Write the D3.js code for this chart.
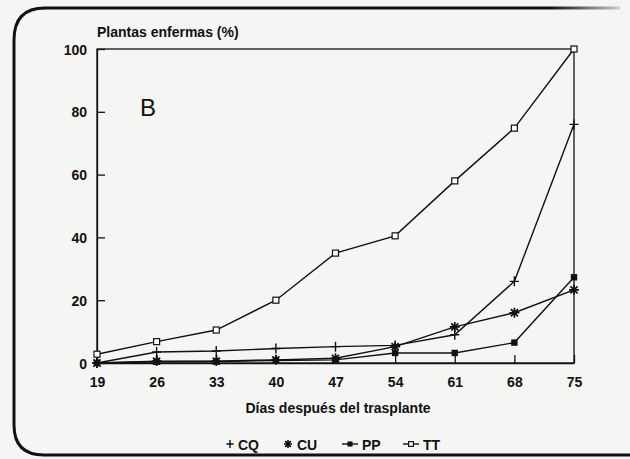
<!DOCTYPE html>
<html><head><meta charset="utf-8">
<script src="https://cdn.jsdelivr.net/npm/d3@7"></script>
<style>
html,body{margin:0;padding:0;background:#f5f5f3;}
svg{display:block;}
text{font-family:"Liberation Sans",Arial,Helvetica,sans-serif;fill:#111;}
</style></head><body>
<svg id="c" width="630" height="459"></svg>
<script>
const days = [19, 26, 33, 40, 47, 54, 61, 68, 75];
const CQ = [0, 3.5, 3.8, 4.6, 5.2, 5.6, 9, 26, 76];
const CU = [0, 0.6, 0.6, 1, 1.5, 5.2, 11.5, 16, 23.3];
const PP = [0, 0.4, 0.5, 0.8, 1, 3.2, 3.2, 6.5, 27.3];
const TT = [2.8, 6.8, 10.5, 20, 35, 40.5, 58, 74.8, 100];
const yTicks = [0, 20, 40, 60, 80, 100];
const seriesNames = ["CQ", "CU", "PP", "TT"];
const seriesData = {CQ, CU, PP, TT};

const svg = d3.select("#c");
const m = {l: 97, r: 574, t: 49, b: 363};
const x = d3.scaleLinear().domain([19, 75]).range([m.l, m.r]);
const y = d3.scaleLinear().domain([0, 100]).range([m.b, m.t]);

// outer rounded frame (left, top, bottom)
const grad = svg.append("defs").append("linearGradient").attr("id", "fade")
  .attr("gradientUnits", "userSpaceOnUse")
  .attr("x1", 40).attr("x2", 620).attr("y1", 0).attr("y2", 0);
grad.append("stop").attr("offset", "0.88").attr("stop-color", "#111");
grad.append("stop").attr("offset", "1").attr("stop-color", "#ccc");
svg.append("path")
  .attr("d", "M 44 8 L 620 8")
  .attr("fill", "none").attr("stroke", "url(#fade)").attr("stroke-width", 2.8);
svg.append("path")
  .attr("d", "M 45 8 Q 14 8 14 40 L 14 425 Q 14 455 44 455 L 630 455")
  .attr("fill", "none").attr("stroke", "#111").attr("stroke-width", 3);

// plot frame
svg.append("rect").attr("x", m.l).attr("y", m.t).attr("width", m.r - m.l).attr("height", m.b - m.t)
  .attr("fill", "none").attr("stroke", "#111").attr("stroke-width", 1.3);

// axes with inward ticks
const yAxis = d3.axisLeft(y).tickValues(yTicks).tickSizeInner(-8).tickSizeOuter(0).tickPadding(10);
const gy = svg.append("g").attr("transform", `translate(${m.l},0)`).call(yAxis);
const xAxis = d3.axisBottom(x).tickValues(days).tickSizeInner(-8).tickSizeOuter(0).tickPadding(14);
const gx = svg.append("g").attr("transform", `translate(0,${m.b})`).call(xAxis);
[gy, gx].forEach(g => {
  g.select(".domain").attr("stroke", "#111").attr("stroke-width", 1.3);
  g.selectAll(".tick line").attr("stroke", "#111").attr("stroke-width", 1.3);
  g.selectAll(".tick text").attr("font-size", 14).attr("font-weight", "bold")
    .attr("font-family", "Liberation Sans, Arial, sans-serif").attr("fill", "#111");
});
gy.selectAll(".tick text").attr("dy", "0.36em");

// titles
svg.append("text").attr("x", m.l).attr("y", 37).attr("font-size", 14).attr("font-weight", "bold")
  .text("Plantas enfermas (%)");
svg.append("text").attr("x", 338).attr("y", 413).attr("text-anchor", "middle").attr("font-size", 14)
  .attr("font-weight", "bold").text("Días después del trasplante");
svg.append("text").attr("x", 140).attr("y", 116).attr("font-size", 24).text("B");

// lines
const line = d3.line().x((d, i) => x(days[i])).y(d => y(d));
seriesNames.forEach(n => {
  svg.append("path").datum(seriesData[n]).attr("d", line)
    .attr("fill", "none").attr("stroke", "#111").attr("stroke-width", 1.4);
});

function marker(g, type, cx, cy, s) {
  if (type === "TT") {
    g.append("rect").attr("x", cx - 3*s).attr("y", cy - 3*s).attr("width", 6*s).attr("height", 6*s)
      .attr("fill", "#fff").attr("stroke", "#111").attr("stroke-width", 1.2);
  } else if (type === "PP") {
    g.append("rect").attr("x", cx - 3.2*s).attr("y", cy - 3.2*s).attr("width", 6.4*s).attr("height", 6.4*s)
      .attr("fill", "#111");
  } else if (type === "CQ") {
    g.append("path").attr("d", `M${cx-4.5*s},${cy}H${cx+4.5*s}M${cx},${cy-5*s}V${cy+5*s}`)
      .attr("stroke", "#111").attr("stroke-width", 1.4);
  } else {
    const r = 5*s, p = [];
    for (let k = 0; k < 4; k++) {
      const a = Math.PI / 4 * k + Math.PI / 2;
      p.push(`M${cx - r*Math.cos(a)},${cy - r*Math.sin(a)}L${cx + r*Math.cos(a)},${cy + r*Math.sin(a)}`);
    }
    g.append("path").attr("d", p.join("")).attr("stroke", "#111").attr("stroke-width", 1.7);
  }
}
const mg = svg.append("g");
["CQ", "CU", "PP", "TT"].forEach(n => {
  seriesData[n].forEach((v, i) => marker(mg, n, x(days[i]), y(v), 1));
});

// legend
const lg = svg.append("g").attr("transform", "translate(0,444)");
const leg = [
  {n: "CQ", mx: 230, tx: 238}, {n: "CU", mx: 288, tx: 297},
  {n: "PP", mx: 350, tx: 362}, {n: "TT", mx: 411, tx: 423}
];
leg.forEach(d => {
  if (d.n === "PP" || d.n === "TT") {
    lg.append("line").attr("x1", d.mx - 8).attr("x2", d.mx + 8).attr("y1", 0).attr("y2", 0)
      .attr("stroke", "#111").attr("stroke-width", 1.4);
  }
  marker(lg, d.n, d.mx, 0, 0.8);
  lg.append("text").attr("x", d.tx).attr("y", 5.5).attr("font-size", 14).attr("font-weight", "bold").text(d.n);
});
</script>
</body></html>
